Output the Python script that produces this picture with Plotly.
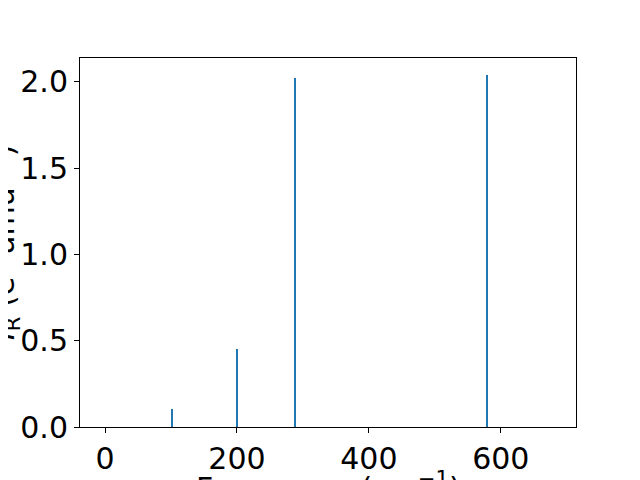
import plotly.graph_objects as go

freqs = [101.5, 200.0, 288.0, 579.0]
intensities = [0.104, 0.452, 2.022, 2.039]
x_ticks = [0, 200, 400, 600]
y_ticks = [0.0, 0.5, 1.0, 1.5, 2.0]
y_tick_labels = ["0.0", "0.5", "1.0", "1.5", "2.0"]
x_title = "Frequency (cm<sup>−1</sup>)"
y_title = "<i>I</i><sub>R</sub> (e<sup>2</sup> amu<sup>−1</sup>)"

fig = go.Figure()
fig.add_trace(go.Bar(x=freqs, y=intensities, width=1.6,
                     marker=dict(color="#1f77b4", line=dict(width=0))))

font = dict(family="DejaVu Sans", size=30, color="black")
fig.update_layout(
    width=640, height=480,
    margin=dict(l=72, r=72, t=50, b=61, autoexpand=False),
    paper_bgcolor="white", plot_bgcolor="white",
    showlegend=False, font=font,
)
fig.update_xaxes(range=[-38, 714], tickvals=x_ticks, ticks="outside", ticklen=5,
                 tickcolor="black", tickwidth=1, showgrid=False, zeroline=False,
                 showline=True, linecolor="black", linewidth=1, mirror=True,
                 tickfont=font, automargin=False)
fig.update_yaxes(range=[0, 2.138], tickvals=y_ticks, ticktext=y_tick_labels,
                 ticks="outside", ticklen=5, tickcolor="black", tickwidth=1,
                 showgrid=False, zeroline=False, showline=True, linecolor="black",
                 linewidth=1, mirror=True, tickfont=font, automargin=False)
fig.add_annotation(text=x_title, xref="paper", yref="paper", x=0.5, y=0,
                   xanchor="center", yanchor="top", yshift=-38, showarrow=False,
                   font=font)
fig.add_annotation(text=y_title, xref="paper", yref="paper", x=0, y=0.5,
                   xanchor="right", yanchor="middle", xshift=-53, textangle=-90,
                   showarrow=False, font=font)

fig.write_html("out.html")
